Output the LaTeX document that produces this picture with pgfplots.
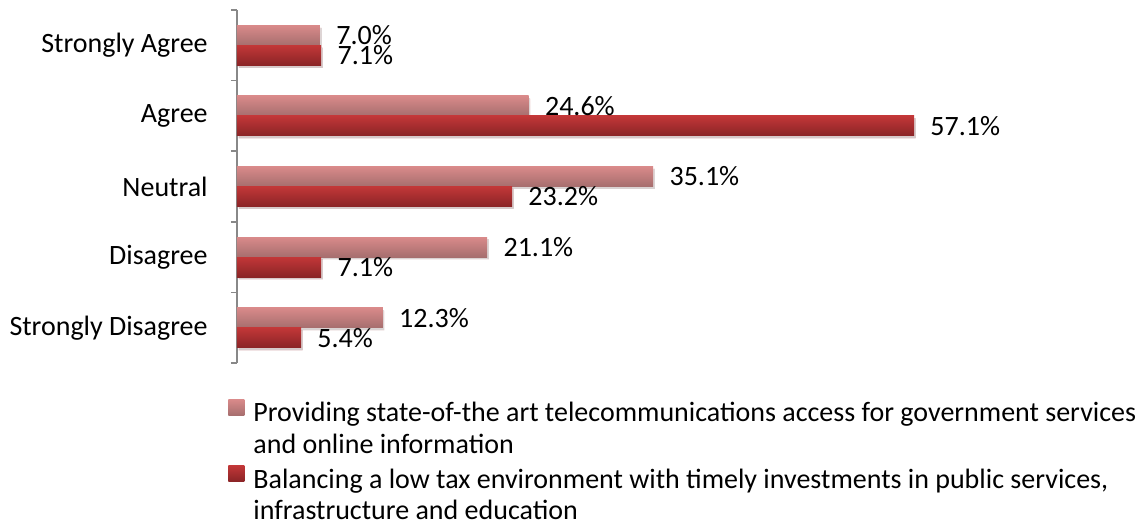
\documentclass[border=0pt]{standalone}
\usepackage{fontspec}
\setmainfont{Carlito}
\usepackage{pgfplots}
\pgfplotsset{compat=1.18}

\definecolor{lightA}{HTML}{D98A8A}
\definecolor{lightB}{HTML}{A66E6E}
\definecolor{darkA}{HTML}{C23738}
\definecolor{darkB}{HTML}{8A2426}
\definecolor{axisgray}{HTML}{888888}

\newcommand{\lbl}{\fontsize{14}{16.8}\selectfont}

\pgfplotsset{
    lightbar/.style={draw=none, top color=lightA, bottom color=lightB, bar shift=5pt},
    darkbar/.style={draw=none, top color=darkA, bottom color=darkB, bar shift=-5pt},
    shadowed/.style={/tikz/preaction={fill=black, opacity=0.12,
        transform canvas={xshift=0.8pt, yshift=-1.2pt}}},
}

\begin{document}
\begin{tikzpicture}
\begin{axis}[
    name=ax,
    scale only axis,
    width=355.7pt, height=176.5pt,
    xmin=0, xmax=60,
    ymin=-0.5, ymax=4.5,
    axis x line=none,
    axis y line=left,
    y axis line style={-, draw=axisgray, line width=0.8pt},
    ytick={0,1,2,3,4},
    yticklabels={Strongly Disagree, Disagree, Neutral, Agree, Strongly Agree},
    major tick length=0pt,
    minor ytick={-0.5,0.5,...,4.5},
    minor tick length=3pt,
    tick align=outside,
    minor tick style={draw=axisgray, line width=0.8pt},
    y tick label style={font=\lbl, inner sep=0pt, xshift=-14.5pt},
    xbar, bar width=10pt,
    point meta=x,
    /pgf/number format/assume math mode=true,
    nodes near coords={\pgfmathprintnumber[fixed,fixed zerofill,precision=1]{\pgfplotspointmeta}\%},
    nodes near coords style={font=\lbl, anchor=west, inner sep=0pt, xshift=8pt, text=black},
    legend style={at={(axis description cs:0,0)}, anchor=north west,
        xshift=-4.5pt, yshift=-18pt, draw=none, fill=none, font=\lbl,
        inner sep=0pt, row sep=2.4pt,
        nodes={inner sep=0pt, text height=10pt, text depth=3.5pt},
        /tikz/every odd column/.append style={column sep=4.5pt}},
    legend cell align=left,
    legend image code/.code={\path[#1,draw=none] (0pt,0pt) rectangle (8pt,8pt);},
]
% Providing state-of-the art telecommunications access ...
\addplot[lightbar, shadowed, forget plot] coordinates {(12.3,0)};
\addplot[lightbar, shadowed, forget plot] coordinates {(21.1,1)};
\addplot[lightbar, shadowed, forget plot] coordinates {(35.1,2)};
\addplot[lightbar, shadowed, forget plot] coordinates {(24.6,3)};
\addplot[lightbar, shadowed, forget plot] coordinates {(7.0,4)};
% Balancing a low tax environment ...
\addplot[darkbar, shadowed, forget plot] coordinates {(5.4,0)};
\addplot[darkbar, shadowed, forget plot] coordinates {(7.1,1)};
\addplot[darkbar, shadowed, forget plot] coordinates {(23.2,2)};
\addplot[darkbar, shadowed, forget plot] coordinates {(57.1,3)};
\addplot[darkbar, shadowed, forget plot] coordinates {(7.1,4)};

\addlegendimage{lightbar}
\addlegendentry{Providing state-of-the art telecommunications access for government services}
\addlegendimage{empty legend}
\addlegendentry{and online information}
\addlegendimage{darkbar}
\addlegendentry{Balancing a low tax environment with timely investments in public services,}
\addlegendimage{empty legend}
\addlegendentry{infrastructure and education}
\end{axis}
\pgfresetboundingbox
\path[use as bounding box] ([xshift=-118.5pt,yshift=5pt]ax.north west) rectangle ++(573pt,-262.5pt);
\end{tikzpicture}
\end{document}
